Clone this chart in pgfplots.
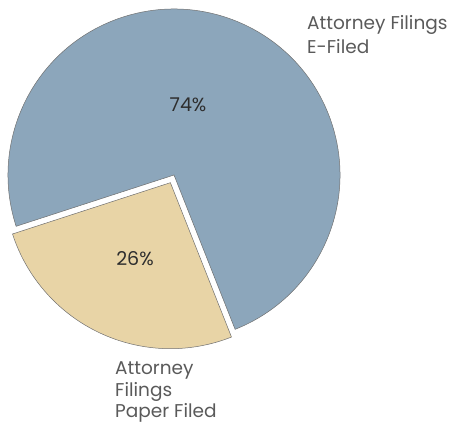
\documentclass[border=0pt]{standalone}
\usepackage{fontspec}
\setmainfont{Poppins}
\usepackage{pgfplots}
\usepackage{pgfplotstable}
\pgfplotsset{compat=1.18}

\definecolor{efiled}{HTML}{8CA6BB}
\definecolor{paper}{HTML}{E8D4A6}
\definecolor{edge}{HTML}{707070}
\definecolor{lbl}{HTML}{5A5A5A}
\definecolor{pct}{HTML}{2E2E2E}

% share of attorney filings, percent
\pgfplotstableread{
label value
efiled 74
paper 26
}\piedata

\begin{document}
\begin{tikzpicture}
\pgfplotstablegetelem{0}{value}\of\piedata \let\va\pgfplotsretval
\pgfplotstablegetelem{1}{value}\of\piedata \let\vb\pgfplotsretval
% paper slice starts at 198 deg, counter clockwise
\pgfmathsetmacro\sa{198}
\pgfmathsetmacro\ea{\sa+\vb*3.6}
\pgfmathsetmacro\eb{\ea+\va*3.6}
\pgfmathsetmacro\mid{(\sa+\ea)/2}
\pgfmathsetmacro\ox{174+8.5*cos(\mid)}
\pgfmathsetmacro\oy{251+8.5*sin(\mid)}
\useasboundingbox (0,0) rectangle (458pt,426pt);
\begin{axis}[
    at={(0,0)}, anchor=origin,
    scale only axis, width=458pt, height=426pt,
    xmin=0, xmax=458, ymin=0, ymax=426,
    hide axis, clip=false,
]
\addplot[draw=none] coordinates {(0,0) (458,426)};
\filldraw[fill=efiled, draw=edge, line width=0.5pt]
    (axis cs:174,251) -- ++(\ea:166pt) arc[start angle=\ea, end angle=\eb, radius=166pt] -- cycle;
\filldraw[fill=paper, draw=edge, line width=0.5pt]
    (axis cs:\ox,\oy) -- ++(\sa:166pt) arc[start angle=\sa, end angle=\ea, radius=166pt] -- cycle;
\node[text=pct, font=\fontsize{19}{22}\selectfont] at (axis cs:188,321) {\va\%};
\node[text=pct, font=\fontsize{19}{22}\selectfont] at (axis cs:135,167) {\vb\%};
\begin{scope}[every node/.style={text=lbl, anchor=base west, inner sep=0pt, font=\fontsize{18.5}{22}\selectfont}]
\node at (axis cs:307,396.7) {Attorney Filings};
\node at (axis cs:307,372.7) {E-Filed};
\node at (axis cs:115,52) {Attorney};
\node at (axis cs:115,30) {Filings};
\node at (axis cs:115,8.5) {Paper Filed};
\end{scope}
\end{axis}
\end{tikzpicture}
\end{document}
